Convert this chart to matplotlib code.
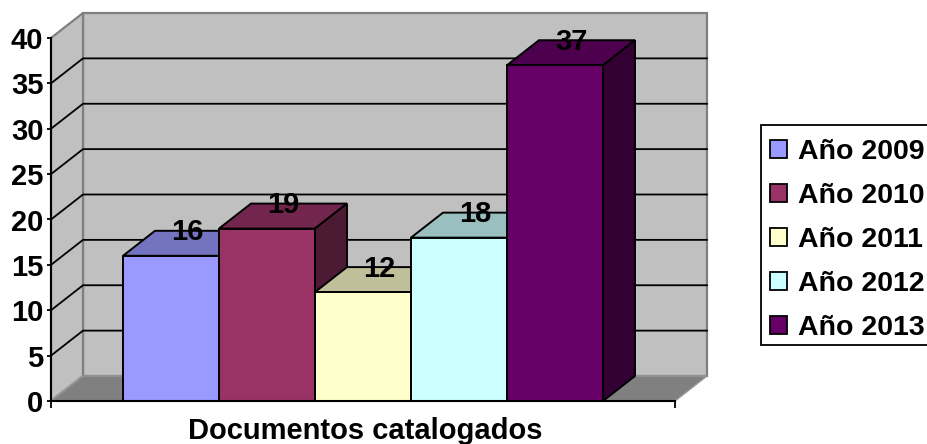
"""Documentos catalogados per year, drawn as a fake-3D column chart."""

import matplotlib
matplotlib.use("Agg")
import matplotlib.pyplot as plt
from matplotlib.patches import Patch, Polygon, Rectangle

W, H = 928, 444

YEARS = ["Año 2009", "Año 2010", "Año 2011", "Año 2012", "Año 2013"]
VALUES = [16, 19, 12, 18, 37]
LABELS = ["16", "19", "12", "18", "37"]
Y_TICKS = [0, 5, 10, 15, 20, 25, 30, 35, 40]
CATEGORY = "Documentos catalogados"

FRONT = ["#9999FF", "#993366", "#FFFFCC", "#CCFFFF", "#660066"]
TOP = ["#7373BF", "#73264D", "#BFBF99", "#99BFBF", "#4D004D"]
SIDE = ["#4D4D80", "#4D1A33", "#808066", "#668080", "#330033"]

plt.rcParams["font.family"] = ["Liberation Sans", "DejaVu Sans"]
plt.rcParams["font.weight"] = "bold"

fig = plt.figure(figsize=(W / 100, H / 100), dpi=100)
# axes box is the front plane of the chart, pixels 51-675 / 38-401
ax = fig.add_axes([51 / W, 1 - 401 / H, 624 / W, 363 / H])

x0, x1 = -3.25, 3.25
y_max = 40
ax.set_xlim(x0, x1)
ax.set_ylim(0, y_max)

# depth of the 3D effect in data units: 32px right, 25px up
dx = 32 / 96
dy = 25 / (363 / y_max)

WALL = "#C0C0C0"
FLOOR = "#808080"
ax.add_patch(Polygon([(x0 + dx, dy), (x1 + dx, dy), (x1 + dx, y_max + dy), (x0 + dx, y_max + dy)],
                     fc=WALL, ec=FLOOR, lw=1.6, clip_on=False, zorder=1))
ax.add_patch(Polygon([(x0, 0), (x0 + dx, dy), (x0 + dx, y_max + dy), (x0, y_max)],
                     fc=WALL, ec=FLOOR, lw=1.6, clip_on=False, zorder=1))
ax.add_patch(Polygon([(x0, 0), (x1, 0), (x1 + dx, dy), (x0 + dx, dy)],
                     fc=FLOOR, ec="#999999", lw=1, clip_on=False, zorder=1))

# gridlines run along the side wall, then across the back wall
for v in Y_TICKS[1:-1]:
    ax.plot([x0, x0 + dx, x1 + dx], [v, v + dy, v + dy], color="black", lw=1.3,
            clip_on=False, zorder=2, solid_joinstyle="miter")

for i, (val, front, top, side) in enumerate(zip(VALUES, FRONT, TOP, SIDE)):
    left = i - 2.5
    right = i - 1.5
    z = 3 + i
    ax.add_patch(Polygon([(left, val), (right, val), (right + dx, val + dy), (left + dx, val + dy)],
                         fc=top, ec="black", lw=1.4, clip_on=False, zorder=z))
    ax.add_patch(Polygon([(right, 0), (right + dx, dy), (right + dx, val + dy), (right, val)],
                         fc=side, ec="black", lw=1.4, clip_on=False, zorder=z))
    ax.bar(i - 2, val, width=1, color=front, edgecolor="black", linewidth=1.4,
           clip_on=False, zorder=z)

for i, (val, label) in enumerate(zip(VALUES, LABELS)):
    ax.text(i - 2 + dx / 2, val + dy / 2 + 1.2, label, ha="center", va="center",
            fontsize=21, color="black", zorder=10)

for name in ["top", "right"]:
    ax.spines[name].set_visible(False)
for name in ["left", "bottom"]:
    ax.spines[name].set_linewidth(1.5)
    ax.spines[name].set_zorder(9)

ax.set_yticks(Y_TICKS)
ax.tick_params(axis="y", length=3, width=1.3, labelsize=21, pad=2.5)
ax.set_xticks([x0, x1])
ax.set_xticklabels(["", ""])
ax.tick_params(axis="x", length=5, width=1.3)

ax.text((365 - 51) / 624, -30 / 363, CATEGORY, transform=ax.transAxes, ha="center", va="center",
        fontsize=21, color="black")

# legend frame runs off the right edge of the image, so it is drawn apart from the entries
fig.add_artist(Rectangle((761 / W, 1 - 345 / H), 180 / W, 220 / H, transform=fig.transFigure,
                         fc="white", ec="black", lw=1.3))
handles = [Patch(fc=c, ec="black", lw=1.3) for c in FRONT]
leg = fig.legend(handles, YEARS, loc="upper left", bbox_to_anchor=(770 / W, 1 - 139 / H),
                 borderaxespad=0, borderpad=0, fontsize=20.5, frameon=False,
                 handlelength=0.6, handleheight=0.6, handletextpad=0.37, labelspacing=0.635)

fig.savefig("out.png", dpi=100)
